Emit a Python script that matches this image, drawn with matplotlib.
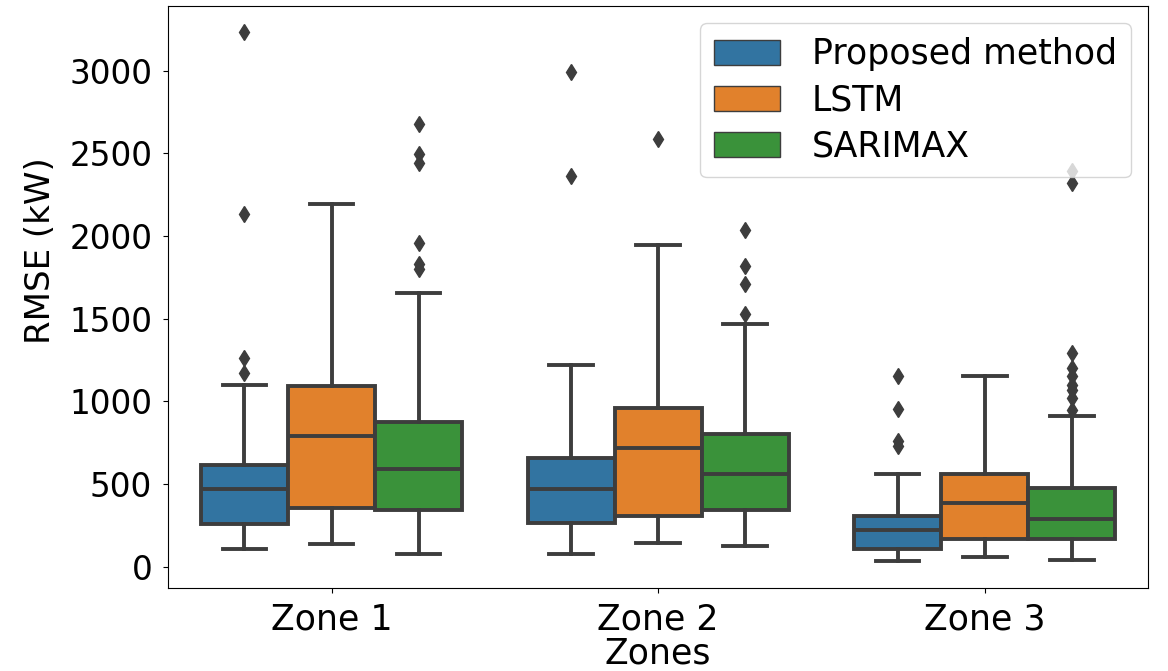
import matplotlib
matplotlib.use("Agg")
import matplotlib.pyplot as plt
from matplotlib.patches import Patch

# box statistics (kW)
zones = ["Zone 1", "Zone 2", "Zone 3"]
methods = ["Proposed method", "LSTM", "SARIMAX"]
colors = ["#3274a1", "#e1812c", "#3a923a"]

# per method: one value per zone
q1 = {
    "Proposed method": [258, 262, 108],
    "LSTM": [355, 308, 170],
    "SARIMAX": [345, 345, 170],
}
med = {
    "Proposed method": [468, 468, 222],
    "LSTM": [790, 715, 385],
    "SARIMAX": [590, 558, 288],
}
q3 = {
    "Proposed method": [612, 655, 308],
    "LSTM": [1090, 960, 562],
    "SARIMAX": [875, 800, 473],
}
whis_lo = {
    "Proposed method": [105, 75, 32],
    "LSTM": [135, 140, 58],
    "SARIMAX": [75, 125, 42],
}
whis_hi = {
    "Proposed method": [1100, 1220, 559],
    "LSTM": [2190, 1945, 1154],
    "SARIMAX": [1655, 1470, 909],
}
fliers = {
    "Proposed method": [[3230, 2135, 1260, 1170], [2990, 2360], [1154, 954, 759, 730]],
    "LSTM": [[], [2585], []],
    "SARIMAX": [[2675, 2495, 2440, 1960, 1830, 1800],
                [2555, 2035, 1820, 1710, 1525],
                [2390, 2320, 1290, 1200, 1150, 1100, 1070, 1020, 950]],
}

line_c = "#3d3d3d"
lw = 2.8
width = 0.8 / len(methods)

plt.rcParams["font.family"] = ["DejaVu Sans"]
fig, ax = plt.subplots(figsize=(11.68, 6.71), dpi=100)
fig.subplots_adjust(left=0.144, right=0.983, bottom=0.124, top=0.991)

for j, m in enumerate(methods):
    stats = []
    for i in range(len(zones)):
        stats.append(dict(med=med[m][i], q1=q1[m][i], q3=q3[m][i],
                          whislo=whis_lo[m][i], whishi=whis_hi[m][i],
                          fliers=fliers[m][i]))
    pos = [i + (j - 1) * width for i in range(len(zones))]
    ax.bxp(stats, positions=pos, widths=width, capwidths=width / 2,
           patch_artist=True, manage_ticks=False,
           boxprops=dict(facecolor=colors[j], edgecolor=line_c, linewidth=lw),
           medianprops=dict(color=line_c, linewidth=lw),
           whiskerprops=dict(color=line_c, linewidth=lw),
           capprops=dict(color=line_c, linewidth=lw),
           flierprops=dict(marker="d", markerfacecolor=line_c, markeredgecolor=line_c,
                           markersize=8.5, linestyle="none"))

ax.set_xlim(-0.5, 2.5)
ax.set_xticks(range(len(zones)))
ax.set_xticklabels(zones)
ax.tick_params(axis="y", labelsize=23.5, pad=8)
ax.tick_params(axis="x", labelsize=25, pad=7)
ax.set_xlabel("Zones", fontsize=25, labelpad=0)
ax.set_ylabel("RMSE (kW)", fontsize=24.5)
ax.yaxis.set_label_coords(-0.113, 0.58)

handles = [Patch(facecolor=c, edgecolor=line_c, linewidth=1) for c in colors]
ax.legend(handles, methods, loc="upper right", fontsize=25,
          handlelength=1.9, handleheight=0.72, handletextpad=0.92,
          labelspacing=0.35, borderpad=0.4)

fig.savefig("out.png", dpi=100)
